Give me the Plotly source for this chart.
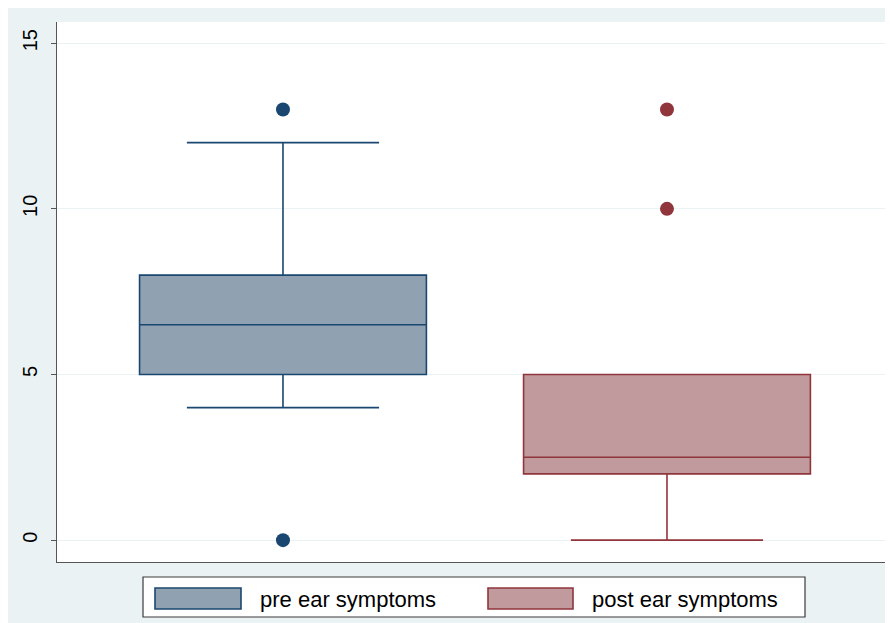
import plotly.graph_objects as go

# ---- data ----
groups = ["pre ear symptoms", "post ear symptoms"]
q1 = [5, 2]
median = [6.5, 2.5]
q3 = [8, 5]
lower_whisker = [4, 0]
upper_whisker = [12, 5]
outliers = [[13, 0], [13, 10]]
yticks = [0, 5, 10, 15]

line_colors = ["#1A476F", "#90353B"]
fill_colors = ["#90A1B2", "#C09A9D"]

OFF = 8  # page body margin
W, H = 893 - OFF, 623 - OFF
ML, MR, MT, MB = 57 - OFF, 1, 22 - OFF, 61
PW, PH = W - ML - MR, H - MT - MB


def px(x):
    return (x - OFF - ML) / PW


def py(y):
    return (H - MB - (y - OFF)) / PH


fig = go.Figure()
for i, g in enumerate(groups):
    fig.add_trace(go.Box(
        x=[i], q1=[q1[i]], median=[median[i]], q3=[q3[i]],
        lowerfence=[lower_whisker[i]], upperfence=[upper_whisker[i]],
        name=g, width=0.747, whiskerwidth=0.67,
        fillcolor=fill_colors[i], line=dict(color=line_colors[i], width=1.6),
        boxpoints=False, showlegend=False,
    ))
    fig.add_trace(go.Scatter(
        x=[i] * len(outliers[i]), y=outliers[i], mode="markers",
        marker=dict(color=line_colors[i], size=14), showlegend=False,
    ))

shapes = []
annotations = []
# legend box
shapes.append(dict(type="rect", xref="paper", yref="paper",
                   x0=px(143), x1=px(805), y0=py(617), y1=py(577),
                   fillcolor="white", line=dict(color="#3a3a3a", width=1.2)))
sw = [(155, 241, 258), (488, 573, 590)]
for i, g in enumerate(groups):
    x0, x1, tx = sw[i]
    shapes.append(dict(type="rect", xref="paper", yref="paper",
                       x0=px(x0), x1=px(x1), y0=py(609), y1=py(588),
                       fillcolor=fill_colors[i],
                       line=dict(color=line_colors[i], width=1.6)))
    annotations.append(dict(text=g, xref="paper", yref="paper",
                            x=px(tx), y=py(599), xanchor="left", yanchor="middle",
                            showarrow=False,
                            font=dict(family="Liberation Sans, Arial", size=22, color="black")))

fig.update_layout(
    width=W, height=H,
    margin=dict(l=ML, r=MR, t=MT, b=MB),
    paper_bgcolor="#EAF2F3",
    plot_bgcolor="white",
    shapes=shapes,
    annotations=annotations,
    showlegend=False,
    xaxis=dict(range=[-0.5885, 1.586], showticklabels=False, ticks="",
               showgrid=False, zeroline=False, showline=True,
               linecolor="#555555", linewidth=1.2),
    yaxis=dict(range=[-0.66, 15.64], tickvals=yticks, ticktext=[str(t) for t in yticks],
               tickangle=-90, ticks="outside", ticklen=5, tickcolor="#555555",
               ticklabelstandoff=6,
               showgrid=True, gridcolor="#EAF2F3", gridwidth=1, zeroline=False,
               showline=True, linecolor="#555555", linewidth=1.2,
               tickfont=dict(family="Liberation Sans, Arial", size=20, color="black")),
    font=dict(family="Liberation Sans, Arial"),
)

fig.write_html("out.html")
